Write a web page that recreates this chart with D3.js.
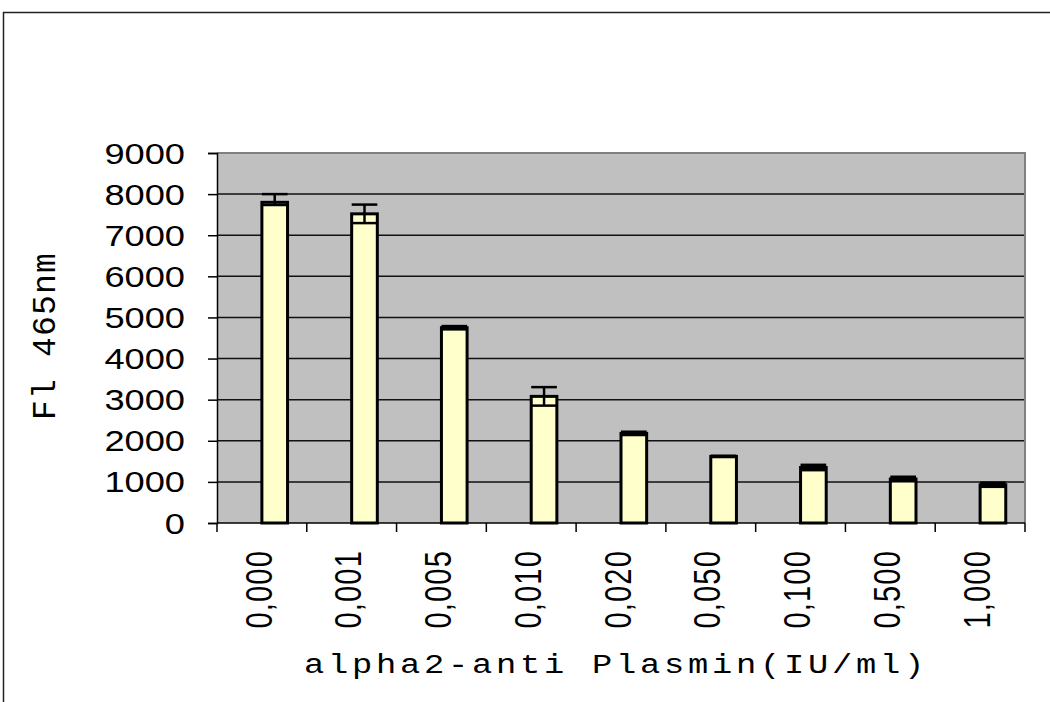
<!DOCTYPE html>
<html>
<head>
<meta charset="utf-8">
<script src="https://cdn.jsdelivr.net/npm/d3@7"></script>
<style>
  body { margin: 0; background: #fff; }
  svg { display: block; }
</style>
</head>
<body>
<svg id="chart" width="1050" height="702"></svg>
<script>
// concentrations on the x axis
const categories = ["0,000", "0,001", "0,005", "0,010", "0,020", "0,050", "0,100", "0,500", "1,000"];
// Fl 465nm readings
const values = [7800, 7520, 4750, 3080, 2180, 1620, 1350, 1070, 930];
const errUp = [200, 225, 40, 225, 40, 15, 65, 55, 50];
const errDown = [65, 225, 40, 225, 40, 15, 65, 55, 50];
const yTicks = [0, 1000, 2000, 3000, 4000, 5000, 6000, 7000, 8000, 9000];

const data = categories.map((c, i) => ({ cat: c, value: values[i], up: errUp[i], down: errDown[i] }));

const svg = d3.select("#chart");
const margin = { left: 217, top: 153, right: 25, bottom: 179 };
const width = 1050 - margin.left - margin.right;
const height = 702 - margin.top - margin.bottom;
const stretch = 1.25; // text in the picture is wider than tall

// outer chart frame
svg.append("rect")
  .attr("x", 3.5).attr("y", 12.5)
  .attr("width", 1060).attr("height", 720)
  .attr("fill", "none").attr("stroke", "#222").attr("stroke-width", 1.5);

const x0 = d3.scaleBand().domain(categories).range([0, width]);
// Excel-style cluster: an empty series sits left of the visible one
const x1 = d3.scaleBand().domain(["blank", "FI"]).range([0, x0.bandwidth()])
  .paddingInner(0).paddingOuter(0.75);
const y = d3.scaleLinear().domain([0, 9000]).range([height, 0]);

const g = svg.append("g").attr("transform", `translate(${margin.left},${margin.top})`);

g.append("rect")
  .attr("width", width).attr("height", height)
  .attr("fill", "#c0c0c0");

// gridlines
g.selectAll("line.grid")
  .data(yTicks.filter(t => t > 0 && t < 9000))
  .enter().append("line")
  .attr("class", "grid")
  .attr("x1", 0).attr("x2", width)
  .attr("y1", d => y(d)).attr("y2", d => y(d))
  .attr("stroke", "#111").attr("stroke-width", 1.5);

// plot frame top/right in grey
g.append("path")
  .attr("d", `M0,0H${width}V${height}`)
  .attr("fill", "none").attr("stroke", "#808080").attr("stroke-width", 2);

// bars
g.selectAll("rect.bar")
  .data(data)
  .enter().append("rect")
  .attr("class", "bar")
  .attr("x", d => x0(d.cat) + x1("FI"))
  .attr("width", x1.bandwidth())
  .attr("y", d => y(d.value))
  .attr("height", d => height - y(d.value))
  .attr("fill", "#ffffcc")
  .attr("stroke", "#000")
  .attr("stroke-width", 3);

// error bars
const err = g.selectAll("g.err")
  .data(data)
  .enter().append("g")
  .attr("class", "err")
  .attr("transform", d => `translate(${x0(d.cat) + x1("FI")},0)`);
const bw = x1.bandwidth();
err.append("line")
  .attr("x1", bw / 2).attr("x2", bw / 2)
  .attr("y1", d => y(d.value + d.up)).attr("y2", d => y(d.value - d.down))
  .attr("stroke", "#000").attr("stroke-width", 2.5);
err.append("line")
  .attr("x1", 0).attr("x2", bw)
  .attr("y1", d => y(d.value + d.up)).attr("y2", d => y(d.value + d.up))
  .attr("stroke", "#000").attr("stroke-width", 2.5);
err.append("line")
  .attr("x1", 0).attr("x2", bw)
  .attr("y1", d => y(d.value - d.down)).attr("y2", d => y(d.value - d.down))
  .attr("stroke", "#000").attr("stroke-width", 2.5);

// y axis
const yAxis = g.append("g")
  .call(d3.axisLeft(y).tickValues(yTicks).tickSize(9).tickFormat(d3.format("d")));
yAxis.select(".domain").attr("stroke", "#000").attr("stroke-width", 1.5);
yAxis.selectAll(".tick line").attr("stroke", "#000").attr("stroke-width", 1.5);
yAxis.selectAll(".tick text")
  .attr("x", null).attr("dy", null)
  .attr("text-anchor", "end")
  .attr("transform", `translate(-32,10) scale(${stretch},1)`)
  .attr("font-family", "Arial, 'Liberation Sans', sans-serif")
  .attr("font-size", 29)
  .attr("fill", "#000");

// x axis: ticks on band edges
const xAxis = g.append("g").attr("transform", `translate(0,${height})`);
xAxis.append("line")
  .attr("x1", 0).attr("x2", width)
  .attr("stroke", "#000").attr("stroke-width", 1.5);
xAxis.selectAll("line.xt")
  .data(categories.concat(["end"]))
  .enter().append("line")
  .attr("class", "xt")
  .attr("x1", (d, i) => i * x0.step()).attr("x2", (d, i) => i * x0.step())
  .attr("y1", 0).attr("y2", 9)
  .attr("stroke", "#000").attr("stroke-width", 1.5);
xAxis.selectAll("text")
  .data(categories)
  .enter().append("text")
  .attr("transform", d => `translate(${x0(d) + x0.bandwidth() / 2 - 3},27) scale(${stretch},1) rotate(-90)`)
  .attr("dy", "0.35em")
  .attr("text-anchor", "end")
  .attr("letter-spacing", 1.2)
  .attr("font-family", "Arial, 'Liberation Sans', sans-serif")
  .attr("font-size", 29)
  .attr("fill", "#000")
  .text(d => d);

// axis titles
const mono = "'Courier New', 'Liberation Mono', monospace";
svg.append("text")
  .attr("transform", `translate(616,673) scale(${stretch},1)`)
  .attr("text-anchor", "middle")
  .attr("letter-spacing", 3)
  .attr("font-family", mono)
  .attr("font-size", 27)
  .attr("fill", "#000")
  .text("alpha2-anti Plasmin(IU/ml)");

svg.append("text")
  .attr("transform", "translate(44,336) rotate(-90)")
  .attr("dy", "0.33em")
  .attr("text-anchor", "middle")
  .attr("letter-spacing", 1.2)
  .attr("font-family", mono)
  .attr("font-size", 33)
  .attr("fill", "#000")
  .text("Fl 465nm");
</script>
</body>
</html>
